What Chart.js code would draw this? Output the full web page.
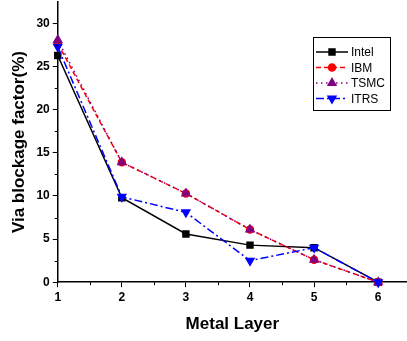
<!DOCTYPE html>
<html>
<head>
<meta charset="utf-8">
<script src="https://cdn.jsdelivr.net/npm/chart.js@4/dist/chart.umd.min.js"></script>
<style>
  html, body { margin: 0; padding: 0; background: #fff; }
  #wrap { width: 407px; height: 341px; }
</style>
</head>
<body>
<div id="wrap"><canvas id="viaChart" width="407" height="341"></canvas></div>
<script>
// metal layers on the x axis
const layers = [1, 2, 3, 4, 5, 6];
const xTicks = [1, 2, 3, 4, 5, 6];
const yTicks = [0, 5, 10, 15, 20, 25, 30];

// via blockage factor (%)
const intel = [26.3, 9.8, 5.6, 4.3, 4.0, 0];
const ibm   = [27.7, 13.9, 10.3, 6.1, 2.6, 0];
const tsmc  = [28.1, 13.9, 10.3, 6.1, 2.6, 0];
const itrs  = [27.3, 9.9, 8.1, 2.5, 4.0, 0];

const toPoints = arr => layers.map((x, i) => ({ x: x, y: arr[i] }));

const FONT = "'Liberation Sans', Arial, sans-serif";

// no extra room for half tick labels at the ends of the axes
const noEndPadding = s => {
    s.paddingTop = 0;
    s.paddingBottom = 0;
    s.paddingLeft = 0;
    s.paddingRight = 0;
};

// minor ticks + framed legend
const extras = {
    id: "extras",
    afterDraw(chart) {
        const ctx = chart.ctx;
        const xs = chart.scales.x, ys = chart.scales.y;
        ctx.save();
        ctx.strokeStyle = "#000";
        ctx.lineWidth = 1;
        // minor ticks
        for (let v = 1.5; v < 6.45; v += 1) {
            const px = Math.round(xs.getPixelForValue(v)) + 0.5;
            ctx.beginPath();
            ctx.moveTo(px, ys.bottom);
            ctx.lineTo(px, ys.bottom + 3);
            ctx.stroke();
        }
        for (let v = 2.5; v < 32.5; v += 5) {
            const py = Math.round(ys.getPixelForValue(v)) + 0.5;
            ctx.beginPath();
            ctx.moveTo(xs.left, py);
            ctx.lineTo(xs.left - 3, py);
            ctx.stroke();
        }

        // legend
        const bx = 313, by = 37, bw = 77, bh = 73;
        ctx.strokeStyle = "#000";
        ctx.lineWidth = 1;
        ctx.strokeRect(bx + 0.5, by + 0.5, bw, bh);
        ctx.font = "12px " + FONT;
        ctx.textBaseline = "middle";
        chart.data.datasets.forEach((ds, i) => {
            const y = by + 15 + i * 15.5;
            ctx.save();
            ctx.strokeStyle = ds.borderColor;
            ctx.lineWidth = ds.borderWidth;
            ctx.setLineDash(ds.borderDash || []);
            ctx.beginPath();
            ctx.moveTo(bx + 3, y);
            ctx.lineTo(bx + 35, y);
            ctx.stroke();
            ctx.setLineDash([]);
            ctx.fillStyle = ds.pointBackgroundColor;
            ctx.strokeStyle = ds.pointBorderColor;
            Chart.helpers.drawPoint(ctx, {
                pointStyle: ds.pointStyle,
                radius: ds.pointRadius,
                rotation: ds.pointRotation || 0,
                borderWidth: 1
            }, bx + 19, y);
            ctx.fillStyle = "#000";
            ctx.fillText(ds.label, bx + 38, y + 1);
            ctx.restore();
        });
        ctx.restore();
    }
};

new Chart(document.getElementById("viaChart"), {

    type: "line",

    data: {
        datasets: [
            {
                label: "Intel",
                data: toPoints(intel),
                borderColor: "#000000",
                borderWidth: 1.5,
                pointStyle: "rect",
                pointRadius: 4.2,
                pointBackgroundColor: "#000000",
                pointBorderColor: "#000000",
                order: 3
            },
            {
                label: "IBM",
                data: toPoints(ibm),
                borderColor: "#ff0000",
                borderWidth: 1.5,
                borderDash: [5, 3],
                pointStyle: "circle",
                pointRadius: 3.5,
                pointBackgroundColor: "#ff0000",
                pointBorderColor: "#ff0000",
                order: 2
            },
            {
                label: "TSMC",
                data: toPoints(tsmc),
                borderColor: "#800080",
                borderWidth: 1.5,
                borderDash: [1.5, 3.5],
                pointStyle: "triangle",
                pointRadius: 4.5,
                pointBackgroundColor: "#800080",
                pointBorderColor: "#800080",
                order: 1
            },
            {
                label: "ITRS",
                data: toPoints(itrs),
                borderColor: "#0000ff",
                borderWidth: 1.5,
                borderDash: [8, 3, 2, 3],
                pointStyle: "triangle",
                pointRotation: 180,
                pointRadius: 4.5,
                pointBackgroundColor: "#0000ff",
                pointBorderColor: "#0000ff",
                order: 0
            }
        ]
    },

    options: {
        responsive: false,
        animation: false,
        clip: false,
        layout: { autoPadding: false, padding: { left: 9, right: 0, top: 2, bottom: 0 } },
        elements: { line: { tension: 0 } },
        plugins: {
            legend: { display: false },
            tooltip: { enabled: false }
        },
        scales: {
            x: {
                type: "linear",
                min: 1,
                max: 6.45,
                afterBuildTicks: s => { s.ticks = xTicks.map(v => ({ value: v })); },
                afterFit: noEndPadding,
                grid: { drawOnChartArea: false, drawTicks: true, tickLength: 5, color: "#000", tickWidth: 1 },
                border: { display: true, color: "#000", width: 1.5 },
                ticks: { color: "#000", font: { family: FONT, size: 12, weight: "bold" }, padding: 3, maxRotation: 0 },
                title: { display: true, text: "Metal Layer", color: "#000", font: { family: FONT, size: 17, weight: "bold" }, padding: { top: 7, bottom: 6 } }
            },
            y: {
                type: "linear",
                min: 0,
                max: 32.5,
                afterBuildTicks: s => { s.ticks = yTicks.map(v => ({ value: v })); },
                afterFit: noEndPadding,
                grid: { drawOnChartArea: false, drawTicks: true, tickLength: 5, color: "#000", tickWidth: 1 },
                border: { display: true, color: "#000", width: 1.5 },
                ticks: { color: "#000", font: { family: FONT, size: 12, weight: "bold" }, padding: 3 },
                title: { display: true, text: "Via blockage factor(%)", color: "#000", font: { family: FONT, size: 17, weight: "bold" }, padding: { top: 0, bottom: 4 } }
            }
        }
    },

    plugins: [extras]

});
</script>
</body>
</html>
